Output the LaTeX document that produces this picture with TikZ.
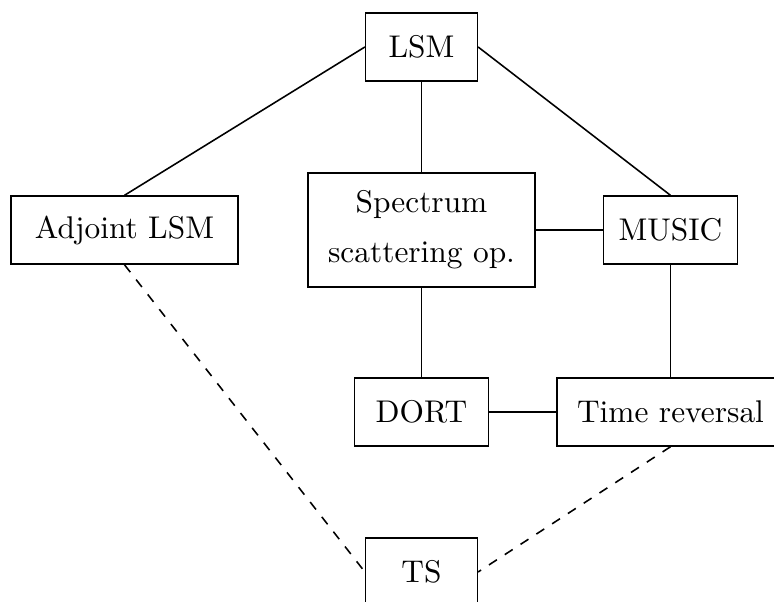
\documentclass[tikz,border=0pt]{standalone}
\usepackage{tikz}

\begin{document}
\begin{tikzpicture}[line width=0.5pt,
  box/.style={draw, minimum height=0.76cm, align=center}]
\path[use as bounding box] (-4.72,0.526) rectangle (3.947,-6.215);
\node[box, minimum width=1.25cm] (lsm) at (0,0) {LSM};
\node[box, minimum width=2.54cm] (adj) at (-3.326,-2.05) {Adjoint LSM};
\node[box, minimum width=2.54cm, minimum height=1.28cm] (spec) at (0,-2.05) {Spectrum\\[4pt] scattering op.};
\node[box, minimum width=1.5cm] (music) at (2.788,-2.05) {MUSIC};
\node[box, minimum width=1.5cm] (dort) at (0,-4.088) {DORT};
\node[box, minimum width=2.54cm] (tr) at (2.788,-4.088) {Time reversal};
\node[box, minimum width=1.25cm] (ts) at (0,-5.879) {TS};
\draw (lsm.west) -- (adj.north);
\draw (lsm) -- (spec);
\draw (lsm.east) -- (music.north);
\draw (spec) -- (music);
\draw (spec) -- (dort);
\draw (music) -- (tr);
\draw (dort) -- (tr);
\draw[dashed] (adj.south) -- (ts.west);
\draw[dashed] (tr.south) -- (ts.east);
\end{tikzpicture}
\end{document}
